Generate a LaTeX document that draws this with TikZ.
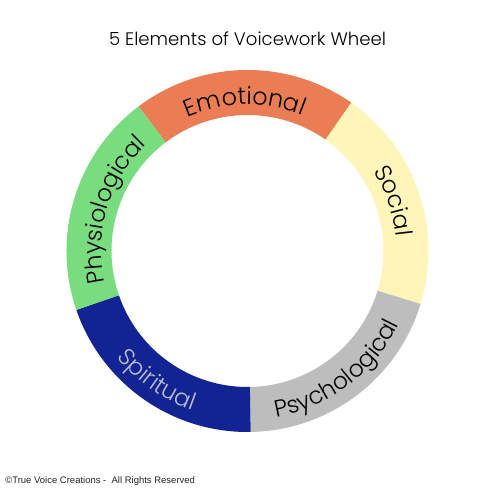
\documentclass[tikz,border=0pt]{standalone}
\usepackage{fontspec}
\setmainfont{Poppins Light}
\newfontfamily\footfont{Liberation Sans}
\usetikzlibrary{decorations.text}
\definecolor{cEmo}{HTML}{EB7D55}
\definecolor{cSoc}{HTML}{FFF5B8}
\definecolor{cPsy}{HTML}{BDBDBD}
\definecolor{cSpi}{HTML}{122493}
\definecolor{cPhy}{HTML}{79DC7E}
\definecolor{cSpiText}{HTML}{BABDCC}
\newcommand{\ringR}{3.62}
\newcommand{\ringr}{2.72}
\tikzset{
  seg/.style={fill=#1, draw=none},
  lbl/.style={decorate, decoration={text along path, text align=center, text={#1}}},
}
\newcommand{\ringseg}[3]{\fill[seg=#3] (#1:\ringR) arc (#1:#2:\ringR) -- (#2:\ringr) arc (#2:#1:\ringr) -- cycle;}
\begin{document}
\begin{tikzpicture}
\useasboundingbox (0,0) rectangle (10,10);
\fill[white] (0,0) rectangle (10,10);
\node[font=\fontsize{10.3}{11}\selectfont, text=black] (title) at (4.95,9.23) {5 Elements of Voicework Wheel};
\node[anchor=west, inner sep=0pt, font=\footfont\fontsize{5.4}{6}\selectfont, text=black!85] (footer) at (0.1,0.38) {\textcopyright True Voice Creations -\ \ All Rights Reserved};
\begin{scope}[shift={(4.95,4.98)}]
  \ringseg{55}{127}{cEmo}
  \ringseg{-17}{55}{cSoc}
  \ringseg{-89}{-17}{cPsy}
  \ringseg{-161}{-89}{cSpi}
  \ringseg{127}{199}{cPhy}
  \path[lbl={|\fontsize{13.6}{14}\selectfont|Emotional}] (127:2.93) arc (127:55:2.93);
  \path[lbl={|\fontsize{13.4}{14}\selectfont|Social}] (55:2.98) arc (55:-17:2.98);
  \path[lbl={|\fontsize{13.4}{14}\selectfont|Physiological}] (199:2.93) arc (199:127:2.93);
  \path[lbl={|\fontsize{13.4}{14}\selectfont|Psychological}] (-89:3.37) arc (-89:-17:3.37);
  \path[decorate, decoration={text along path, text align=center, text color=cSpiText, text={|\fontsize{13.4}{14}\selectfont|Spiritual}}] (-161:3.37) arc (-161:-89:3.37);
\end{scope}
\end{tikzpicture}
\end{document}
